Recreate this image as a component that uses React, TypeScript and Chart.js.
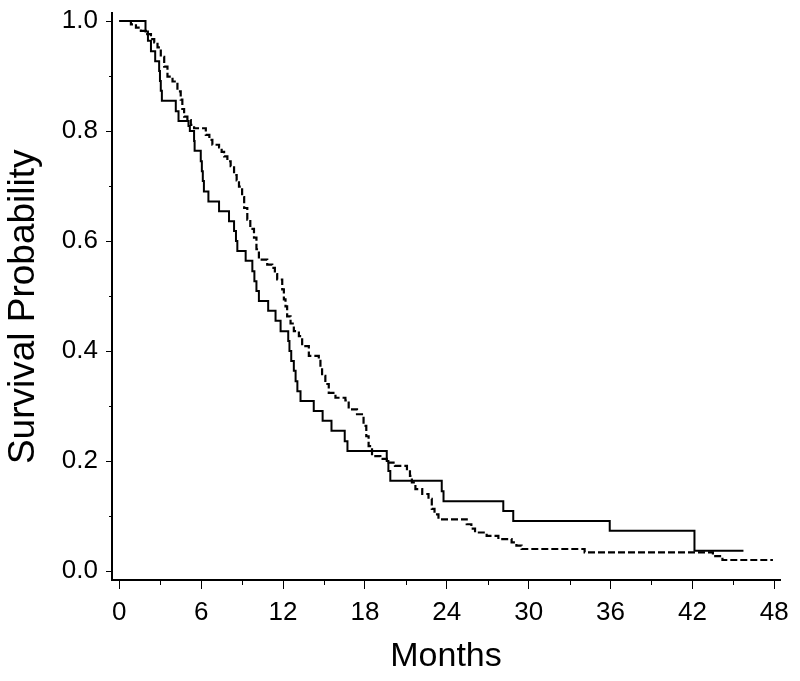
import React, { useEffect, useRef } from "react";
import { Chart, registerables } from "chart.js";

Chart.register(...registerables);

// Solid curve (Kaplan–Meier step points: month at which survival drops to value)
const solidMonths = [
  0, 1.92, 2.1, 2.32, 2.63, 2.92, 2.98, 3.04, 3.12, 4.14, 4.34, 5.07, 5.17, 5.48, 5.52,
  5.97, 6.05, 6.12, 6.2, 6.53, 7.31, 8.04, 8.41, 8.55, 8.65, 9.26, 9.75, 9.9, 10.05, 10.23,
  10.91, 11.45, 11.82, 12.38, 12.47, 12.6, 12.79, 12.92, 13.05, 13.28, 14.25, 14.9, 15.55,
  16.52, 16.72, 19.6, 19.72, 19.86, 23.63, 23.76, 28.14, 28.87, 35.94, 42.15, 45.74,
];
const solidSurvival = [
  1.0, 0.981, 0.964, 0.945, 0.927, 0.909, 0.891, 0.873, 0.855, 0.836, 0.818, 0.809, 0.8,
  0.782, 0.764, 0.745, 0.727, 0.709, 0.69, 0.672, 0.654, 0.636, 0.618, 0.6, 0.582, 0.564,
  0.545, 0.527, 0.509, 0.491, 0.473, 0.455, 0.436, 0.418, 0.4, 0.382, 0.364, 0.345, 0.327,
  0.309, 0.291, 0.273, 0.255, 0.236, 0.218, 0.2, 0.182, 0.164, 0.145, 0.127, 0.109, 0.091,
  0.073, 0.037, 0.037,
];

// Dashed curve
const dashedMonths = [
  0, 0.85, 1.22, 1.58, 1.95, 2.32, 2.56, 2.8, 3.04, 3.29, 3.53, 3.9, 4.26, 4.5, 4.62, 4.75,
  4.99, 5.24, 5.48, 6.34, 6.6, 6.82, 7.31, 7.5, 7.68, 7.92, 8.16, 8.41, 8.6, 8.77, 9.0, 9.15,
  9.38, 9.6, 9.87, 10.05, 10.23, 10.84, 11.21, 11.4, 11.57, 11.94, 12.06, 12.18, 12.3, 12.55,
  12.79, 13.16, 13.4, 13.89, 14.62, 14.74, 14.86, 15.1, 15.35, 15.84, 16.57, 16.81, 17.42,
  17.9, 18.1, 18.27, 18.52, 19.13, 19.6, 20.2, 21.08, 21.3, 21.44, 21.7, 22.2, 22.66, 22.9,
  23.1, 23.39, 25.46, 25.8, 26.07, 26.92, 27.78, 28.75, 29.1, 29.48, 34.1, 43.5, 44.2, 47.9,
];
const dashedSurvival = [
  1.0, 0.994, 0.988, 0.982, 0.976, 0.967, 0.961, 0.952, 0.935, 0.917, 0.899, 0.89, 0.872,
  0.857, 0.84, 0.826, 0.82, 0.811, 0.805, 0.793, 0.784, 0.775, 0.77, 0.762, 0.754, 0.745,
  0.736, 0.72, 0.71, 0.699, 0.68, 0.66, 0.639, 0.622, 0.606, 0.585, 0.566, 0.557, 0.551,
  0.54, 0.53, 0.512, 0.494, 0.481, 0.463, 0.45, 0.436, 0.427, 0.409, 0.391, 0.385, 0.37,
  0.355, 0.34, 0.324, 0.315, 0.31, 0.294, 0.285, 0.264, 0.245, 0.227, 0.209, 0.204, 0.197,
  0.191, 0.185, 0.173, 0.161, 0.149, 0.14, 0.131, 0.113, 0.103, 0.094, 0.085, 0.077, 0.07,
  0.064, 0.058, 0.052, 0.046, 0.04, 0.034, 0.027, 0.02, 0.02,
];

const xTickValues = [0, 6, 12, 18, 24, 30, 36, 42, 48];
const xMinorTickValues = [3, 9, 15, 21, 27, 33, 39, 45];
const yTickValues = [0, 0.2, 0.4, 0.6, 0.8, 1.0];
const yMinorTickValues = [0.1, 0.3, 0.5, 0.7, 0.9];
const xTitle = "Months";
const yTitle = "Survival Probability";

const FONT = '"Liberation Sans", Arial, Helvetica, sans-serif';

const minorTicksPlugin = {
  id: "minorTicks",
  afterDraw(chart: any) {
    const { ctx } = chart;
    const x = chart.scales.x;
    const y = chart.scales.y;
    ctx.save();
    ctx.strokeStyle = "#000";
    ctx.lineWidth = 1;
    ctx.beginPath();
    xMinorTickValues.forEach((v) => {
      const px = Math.round(x.getPixelForValue(v)) + 0.5;
      ctx.moveTo(px, x.top);
      ctx.lineTo(px, x.top + 5);
    });
    yMinorTickValues.forEach((v) => {
      const py = Math.round(y.getPixelForValue(v)) + 0.5;
      ctx.moveTo(y.right, py);
      ctx.lineTo(y.right - 3, py);
    });
    ctx.stroke();
    ctx.restore();
  },
};

export default function App() {
  const canvasRef = useRef<HTMLCanvasElement | null>(null);

  useEffect(() => {
    if (!canvasRef.current) return;
    const chart = new Chart(canvasRef.current, {
      type: "line",
      data: {
        datasets: [
          {
            label: "Solid",
            data: solidMonths.map((m, i) => ({ x: m, y: solidSurvival[i] })),
            borderColor: "#000",
            borderWidth: 2,
            stepped: "before",
            pointRadius: 0,
            fill: false,
          },
          {
            label: "Dashed",
            data: dashedMonths.map((m, i) => ({ x: m, y: dashedSurvival[i] })),
            borderColor: "#000",
            borderWidth: 2.2,
            borderDash: [7, 3],
            stepped: "before",
            pointRadius: 0,
            fill: false,
          },
        ],
      },
      options: {
        responsive: false,
        animation: false,
        layout: { padding: { left: 0, right: 20, top: 13, bottom: 0 } },
        plugins: {
          legend: { display: false },
          tooltip: { enabled: false },
          title: { display: false },
        },
        scales: {
          x: {
            type: "linear",
            min: -0.535,
            max: 48.418,
            afterBuildTicks: (s: any) => {
              s.ticks = xTickValues.map((v) => ({ value: v }));
            },
            afterFit: (s: any) => {
              s.height = 101;
              s.paddingLeft = 0;
              s.paddingRight = 0;
              s.paddingTop = 0;
              s.paddingBottom = 0;
            },
            ticks: {
              color: "#000",
              font: { family: FONT, size: 26 },
              padding: 8,
              maxRotation: 0,
              autoSkip: false,
              callback: (v: any) => String(v),
            },
            grid: {
              display: true,
              drawOnChartArea: false,
              drawTicks: true,
              tickLength: 9,
              tickColor: "#000",
              tickWidth: 1,
            },
            border: { display: true, color: "#000", width: 2 },
            title: {
              display: true,
              text: xTitle,
              color: "#000",
              font: { family: FONT, size: 34 },
              padding: { top: 0, bottom: 4 },
            },
          },
          y: {
            type: "linear",
            min: -0.01636,
            max: 1.01455,
            afterBuildTicks: (s: any) => {
              s.ticks = yTickValues.map((v) => ({ value: v }));
            },
            afterFit: (s: any) => {
              s.width = 112;
              s.paddingLeft = 0;
              s.paddingRight = 0;
              s.paddingTop = 0;
              s.paddingBottom = 0;
            },
            ticks: {
              color: "#000",
              font: { family: FONT, size: 26 },
              padding: 8,
              autoSkip: false,
              callback: (v: any) => Number(v).toFixed(1),
            },
            grid: {
              display: true,
              drawOnChartArea: false,
              drawTicks: true,
              tickLength: 6,
              tickColor: "#000",
              tickWidth: 1,
            },
            border: { display: true, color: "#000", width: 2 },
            title: {
              display: true,
              text: yTitle + "  ",
              color: "#000",
              font: { family: FONT, size: 37 },
              padding: { top: 2, bottom: 0 },
            },
          },
        },
      },
      plugins: [minorTicksPlugin],
    } as any);
    return () => chart.destroy();
  }, []);

  return (
    <div
      style={{
        position: "fixed",
        left: 0,
        top: 0,
        width: 800,
        height: 681,
        background: "#fff",
      }}
    >
      <canvas ref={canvasRef} width={800} height={681} style={{ display: "block" }} />
    </div>
  );
}
